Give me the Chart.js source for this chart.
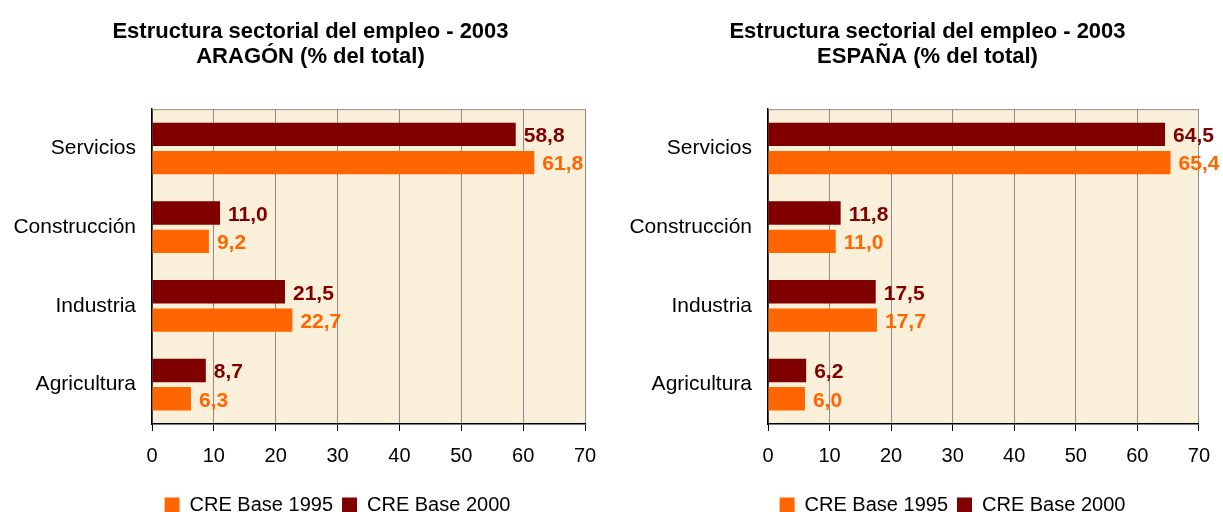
<!DOCTYPE html>
<html lang="es">
<head>
<meta charset="utf-8">
<title>Estructura sectorial del empleo - 2003</title>
<script src="https://cdn.jsdelivr.net/npm/chart.js@4/dist/chart.umd.min.js"></script>
<style>
    html, body { margin: 0; padding: 0; background: #ffffff; }
    body { width: 1223px; height: 512px; position: relative; overflow: hidden; }
    .chart-box { position: absolute; top: 0; height: 512px; }
    #boxAragon { left: 0; width: 622px; }
    #boxEspana { left: 612px; width: 611px; }
</style>
</head>
<body>
<div class="chart-box" id="boxAragon"><canvas id="chartAragon"></canvas></div>
<div class="chart-box" id="boxEspana"><canvas id="chartEspana"></canvas></div>

<script>
/**
 * Estructura sectorial del empleo 2003 - Aragón y España (% del total)
 */

// Datos
const sectores = ['Servicios', 'Construcción', 'Industria', 'Agricultura'];
const seriesNombres = ['CRE Base 2000', 'CRE Base 1995'];
const aragon2000 = [58.8, 11.0, 21.5, 8.7];
const aragon1995 = [61.8, 9.2, 22.7, 6.3];
const espana2000 = [64.5, 11.8, 17.5, 6.2];
const espana1995 = [65.4, 11.0, 17.7, 6.0];
const ejeValores = [0, 70, 10]; // min, max, paso

const COLOR_2000 = '#800000';
const COLOR_1995 = '#ff6600';
const FUENTE = '"Liberation Sans", Arial, Helvetica, sans-serif';

Chart.defaults.font.family = FUENTE;
Chart.defaults.color = '#000000';

/**
 * Formato con coma decimal
 */
function formatoES(v) {
    return v.toFixed(1).replace('.', ',');
}

/**
 * Fondo del área de gráfico y borde superior
 */
const fondoArea = {
    id: 'fondoArea',
    beforeDraw(chart) {
        const { ctx, chartArea: a } = chart;
        ctx.save();
        ctx.fillStyle = '#faefd9';
        ctx.fillRect(a.left, a.top, a.right - a.left, a.bottom - a.top);
        ctx.restore();
    },
    afterDraw(chart) {
        const { ctx, chartArea: a } = chart;
        ctx.save();
        ctx.strokeStyle = '#8c8c8c';
        ctx.lineWidth = 1;
        ctx.beginPath();
        ctx.moveTo(a.left, a.top + 0.5);
        ctx.lineTo(a.right, a.top + 0.5);
        ctx.stroke();
        ctx.restore();
    }
};

/**
 * Etiquetas de valor al final de cada barra
 */
const etiquetasValor = {
    id: 'etiquetasValor',
    afterDatasetsDraw(chart) {
        const ctx = chart.ctx;
        ctx.save();
        ctx.font = 'bold 21px ' + FUENTE;
        ctx.textAlign = 'left';
        ctx.textBaseline = 'middle';
        chart.data.datasets.forEach((ds, i) => {
            ctx.fillStyle = ds.backgroundColor;
            chart.getDatasetMeta(i).data.forEach((bar, j) => {
                ctx.fillText(formatoES(ds.data[j]), bar.x + 8, bar.y + 2);
            });
        });
        ctx.restore();
    }
};

/**
 * Desplaza título y leyenda para situarlos como en el original
 */
const desplazarCajas = {
    id: 'desplazarCajas',
    afterLayout(chart, args, opts) {
        const t = chart.titleBlock;
        if (t && opts.tituloX) {
            t.left += opts.tituloX;
            t.right += opts.tituloX;
        }
        const l = chart.legend;
        if (l) {
            if (opts.leyendaX) {
                l.left += opts.leyendaX;
                l.right += opts.leyendaX;
            }
            if (opts.leyendaTop !== undefined) {
                l.top = opts.leyendaTop;
                l.bottom = l.top + l.height;
            }
        }
    }
};

/**
 * Crea un gráfico de barras horizontales
 */
function crearGrafico(canvasId, region, datos2000, datos1995, anchoEje, padDerecha, ajustes) {
    const ctx = document.getElementById(canvasId);
    if (!ctx) {
        console.error('No se encontró el canvas', canvasId);
        return null;
    }

    return new Chart(ctx, {
        type: 'bar',
        data: {
            labels: sectores,
            datasets: [
                {
                    label: seriesNombres[0],
                    data: datos2000,
                    backgroundColor: COLOR_2000
                },
                {
                    label: seriesNombres[1],
                    data: datos1995,
                    backgroundColor: COLOR_1995
                }
            ]
        },
        options: {
            indexAxis: 'y',
            responsive: true,
            maintainAspectRatio: false,
            animation: false,
            barPercentage: 0.825,
            categoryPercentage: 0.72,
            layout: { padding: { left: 0, right: padDerecha, top: 0, bottom: 0 } },
            scales: {
                x: {
                    min: ejeValores[0],
                    max: ejeValores[1],
                    ticks: {
                        stepSize: ejeValores[2],
                        color: '#000000',
                        font: { size: 20 },
                        padding: 13
                    },
                    grid: {
                        color: '#8c8c8c',
                        tickColor: '#000000',
                        tickLength: 7,
                        lineWidth: 1
                    },
                    border: { color: '#000000', width: 1.5 },
                    afterFit(scale) { scale.height = 49; }
                },
                y: {
                    ticks: {
                        color: '#000000',
                        font: { size: 21 },
                        padding: 16
                    },
                    grid: { display: false, drawTicks: false },
                    border: { color: '#000000', width: 1.5 },
                    afterFit(scale) { scale.width = anchoEje; }
                }
            },
            plugins: {
                title: {
                    display: true,
                    text: ['Estructura sectorial del empleo - 2003', region + ' (% del total)'],
                    color: '#000000',
                    font: { size: 22, weight: 'bold', lineHeight: 1.14 },
                    padding: { top: 19, bottom: 40 }
                },
                legend: {
                    position: 'bottom',
                    reverse: true,
                    labels: {
                        color: '#000000',
                        font: { size: 20 },
                        boxWidth: 15,
                        boxHeight: 15,
                        padding: 9
                    }
                },
                tooltip: { enabled: false },
                desplazarCajas: ajustes
            }
        },
        plugins: [fondoArea, etiquetasValor, desplazarCajas]
    });
}

window.graficoAragon = crearGrafico('chartAragon', 'ARAGÓN', aragon2000, aragon1995, 152, 37,
    { tituloX: 18, leyendaX: 45, leyendaTop: 486 });
window.graficoEspana = crearGrafico('chartEspana', 'ESPAÑA', espana2000, espana1995, 156, 24,
    { tituloX: 22, leyendaX: 47, leyendaTop: 486 });
</script>
</body>
</html>
